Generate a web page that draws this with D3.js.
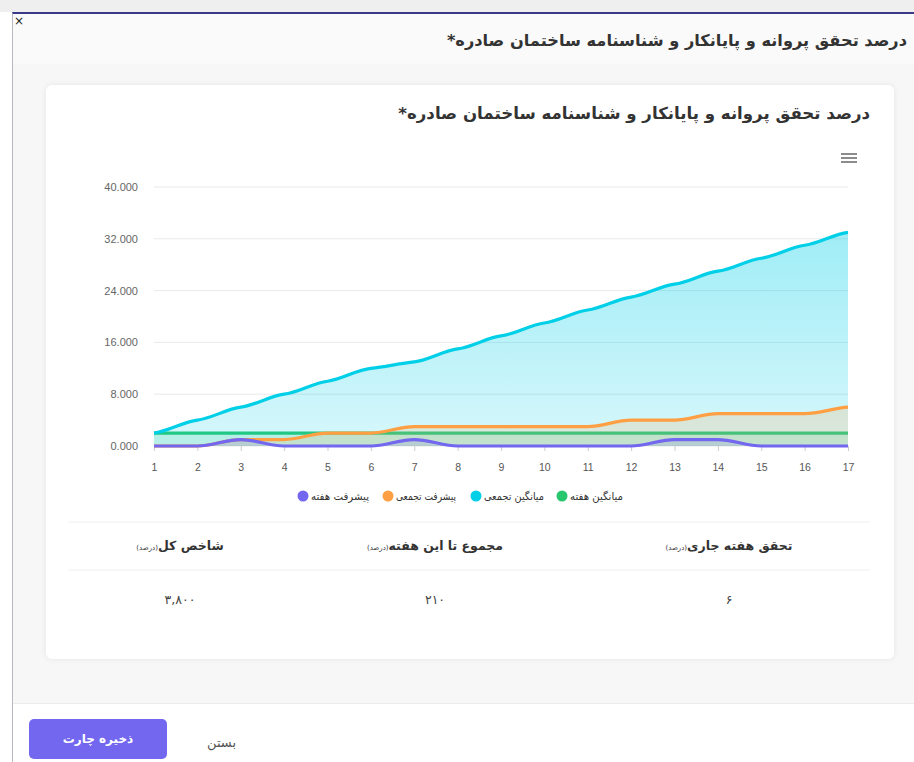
<!DOCTYPE html>
<html><head><meta charset="utf-8">
<script src="https://cdn.jsdelivr.net/npm/d3@7/dist/d3.min.js"></script>
<style>
html,body{margin:0;padding:0;width:914px;height:762px;overflow:hidden;background:#fff;font-family:"DejaVu Sans",sans-serif;}
#top{position:absolute;left:0;top:0;width:914px;height:12px;background:#efefef;}
#modal{position:absolute;left:12px;top:12px;width:902px;height:750px;border-top:2px solid #3b3a86;border-left:1px solid #b8b8c0;background:#fff;}
#close{position:absolute;left:1px;top:2px;width:10px;height:10px;font-size:12px;line-height:10px;color:#222;}
#hdr{position:absolute;left:0;top:0;width:902px;height:50px;background:#fafafa;}
#hdrTitle{position:absolute;right:8px;top:17px;font-size:16.2px;font-weight:bold;color:#333;direction:rtl;white-space:nowrap;}
#bodyArea{position:absolute;left:0;top:50px;width:902px;height:639px;background:#f7f7f8;}
#card{position:absolute;left:33px;top:21px;width:848px;height:574px;background:#fff;border-radius:6px;box-shadow:0 0 6px rgba(0,0,0,0.08);}
#foot{position:absolute;left:0;top:689px;width:902px;height:61px;background:#fff;border-top:1px solid #ececec;}
#btn{position:absolute;left:16px;top:15px;width:138px;height:40px;background:#7367f0;border-radius:5px;color:#fff;font-size:12px;font-weight:bold;text-align:center;line-height:40px;direction:rtl;}
#closeTxt{position:absolute;left:194px;top:31px;font-size:13px;color:#555;direction:rtl;}
svg{position:absolute;left:0;top:0;}
</style></head>
<body>
<div id="top"></div>
<div id="modal">
  <div id="hdr"><div id="close">×</div><div id="hdrTitle"></div></div>
  <div id="bodyArea"><div id="card"></div></div>
  <div id="foot"><div id="btn"></div><div id="closeTxt"></div></div>
</div>
<svg id="chart" width="914" height="762"></svg>
<script>
const chartTitle = "درصد تحقق پروانه و پایانکار و شناسنامه ساختمان صادره*";
const weeks = [1,2,3,4,5,6,7,8,9,10,11,12,13,14,15,16,17];
const yTicks = [0,8,16,24,32,40];
const seriesNames = ["میانگین هفته","میانگین تجمعی","پیشرفت تجمعی","پیشرفت هفته"];
const seriesColors = ["#28c76f","#00cfe8","#ff9f43","#7367f0"];
const weeklyAverage = [2,2,2,2,2,2,2,2,2,2,2,2,2,2,2,2,2];
const cumulativeAverage = [2,4,6,8,10,12,13,15,17,19,21,23,25,27,29,31,33];
const cumulativeProgress = [0,0,1,1,2,2,3,3,3,3,3,4,4,5,5,5,6];
const weeklyProgress = [0,0,1,0,0,0,1,0,0,0,0,0,1,1,0,0,0];
const tableHeaders = ["تحقق هفته جاری","مجموع تا این هفته","شاخص کل"];
const tableUnit = "(درصد)";
const tableValues = ["۶","۲۱۰","۳,۸۰۰"];
const saveLabel = "ذخیره چارت";
const closeLabel = "بستن";

d3.select("#hdrTitle").text(chartTitle);
d3.select("#btn").text(saveLabel);
d3.select("#closeTxt").text(closeLabel);

const svg = d3.select("#chart");
const x = d3.scaleLinear().domain([1,17]).range([154,848]);
const y = d3.scaleLinear().domain([0,40]).range([446,187]);

// card title
svg.append("text").attr("x",870).attr("y",119).attr("direction","rtl")
  .attr("text-anchor","start").attr("font-size",16.6).attr("font-weight","bold")
  .attr("fill","#333").text(chartTitle);

// menu icon
[154,158,162].forEach(yy=>svg.append("line").attr("x1",841).attr("x2",857).attr("y1",yy).attr("y2",yy)
  .attr("stroke","#666").attr("stroke-width",1.5));

// grid
svg.append("g").selectAll("line").data(yTicks).join("line")
  .attr("x1",154).attr("x2",848).attr("y1",d=>y(d)).attr("y2",d=>y(d))
  .attr("stroke","#e9e9e9").attr("stroke-width",1);

// y labels
svg.append("g").selectAll("text").data(yTicks).join("text")
  .attr("x",138).attr("y",d=>y(d)+4).attr("text-anchor","end")
  .attr("font-family","Liberation Sans, Arial").attr("font-size",11).attr("fill","#666")
  .text(d=>d.toFixed(3));

// x axis
const xAxis = d3.axisBottom(x).tickValues(weeks).tickSize(5).tickFormat(d3.format("d"));
const gx = svg.append("g").attr("transform","translate(0,446)").call(xAxis);
gx.select(".domain").remove();
gx.selectAll(".tick line").attr("stroke","#ccc");
gx.selectAll(".tick text").attr("font-family","Liberation Sans, Arial").attr("font-size",10.5).attr("fill","#555")
  .attr("y",22).attr("dy","0.32em");

// gradients
const defs = svg.append("defs");
seriesColors.forEach((c,i)=>{
  const g = defs.append("linearGradient").attr("id","grad"+i).attr("gradientUnits","userSpaceOnUse")
    .attr("x1",0).attr("x2",0).attr("y1",187).attr("y2",446);
  g.append("stop").attr("offset",0).attr("stop-color",c).attr("stop-opacity",0.42);
  g.append("stop").attr("offset",1).attr("stop-color",c).attr("stop-opacity",0.16);
});

function smoothPath(vals, k, closeArea){
  const pts = vals.map((v,i)=>[x(weeks[i]), y(v)]);
  const n = pts.length;
  const m = pts.map((p,i)=>{
    if(i===0) return k*(pts[1][1]-p[1])/(pts[1][0]-p[0]);
    if(i===n-1) return k*(p[1]-pts[i-1][1])/(p[0]-pts[i-1][0]);
    const d1=(p[1]-pts[i-1][1])/(p[0]-pts[i-1][0]);
    const d2=(pts[i+1][1]-p[1])/(pts[i+1][0]-p[0]);
    if(d1*d2<=0) return 0;
    return k*(d1+d2)/2;
  });
  const path = d3.path();
  path.moveTo(pts[0][0],pts[0][1]);
  for(let i=1;i<n;i++){
    const h=(pts[i][0]-pts[i-1][0])/3;
    path.bezierCurveTo(pts[i-1][0]+h, pts[i-1][1]+m[i-1]*h, pts[i][0]-h, pts[i][1]-m[i]*h, pts[i][0], pts[i][1]);
  }
  if(closeArea){ path.lineTo(pts[n-1][0], y(0)); path.lineTo(pts[0][0], y(0)); path.closePath(); }
  return path.toString();
}

const allSeries = [weeklyAverage, cumulativeAverage, cumulativeProgress, weeklyProgress];
const plot = svg.append("g");
allSeries.forEach((vals,i)=>{
  plot.append("path").attr("d",smoothPath(vals,0.4,true)).attr("fill","url(#grad"+i+")");
  plot.append("path").attr("d",smoothPath(vals,0.4,false)).attr("fill","none")
    .attr("stroke",seriesColors[i]).attr("stroke-width",3.2).attr("stroke-linejoin","round");
});

// legend (left to right: purple, orange, cyan, green)
const legendOrder = [3,2,1,0];
const legendX = [303,388,476,562];
const legendW = [58,60,60,53];
const lg = svg.append("g");
legendOrder.forEach((si,j)=>{
  lg.append("circle").attr("cx",legendX[j]).attr("cy",496).attr("r",5.5).attr("fill",seriesColors[si]);
  lg.append("text").attr("x",legendX[j]+8).attr("y",500).attr("font-size",10.5).attr("fill","#333")
    .attr("textLength",legendW[j]).attr("lengthAdjust","spacingAndGlyphs")
    .text(seriesNames[si]);
});

// table
svg.append("line").attr("x1",68).attr("x2",870).attr("y1",522).attr("y2",522).attr("stroke","#f0f0f0");
svg.append("line").attr("x1",68).attr("x2",870).attr("y1",570).attr("y2",570).attr("stroke","#f0f0f0");
const colX = [729,435,180];
tableHeaders.forEach((h,i)=>{
  const t = svg.append("text").attr("x",colX[i]).attr("y",550).attr("text-anchor","middle")
    .attr("direction","rtl").attr("font-size",12.5).attr("font-weight","bold").attr("fill","#333");
  t.append("tspan").text(h);
  t.append("tspan").attr("font-size",7).attr("font-weight","normal").text(tableUnit);
  svg.append("text").attr("x",colX[i]).attr("y",604).attr("text-anchor","middle")
    .attr("font-size",12.5).attr("fill","#444").text(tableValues[i]);
});
</script>
</body></html>
